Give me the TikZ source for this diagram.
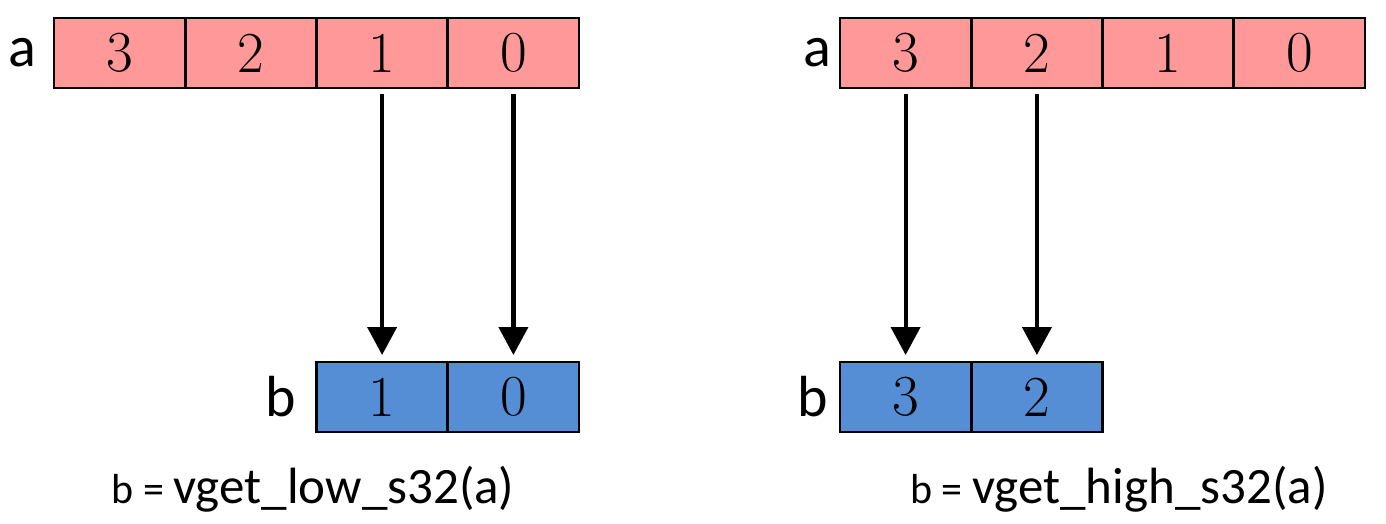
\documentclass[tikz,border=0pt]{standalone}
\usepackage{fontspec}
\usepackage{xcolor}
\usetikzlibrary{positioning, arrows.meta}
\newfontfamily\lblfont{Carlito}
\definecolor{cellpink}{HTML}{FF9999}
\definecolor{cellblue}{HTML}{558ED5}

\tikzset{
    cell/.style={draw, line width=2.5pt, minimum width=131pt, minimum height=70pt,
        inner sep=0pt, outer sep=0pt, font=\fontsize{58}{64}\selectfont},
    acell/.style={cell, fill=cellpink},
    bcell/.style={cell, fill=cellblue},
    lbl/.style={inner sep=0pt, font=\lblfont\fontsize{58}{64}\selectfont},
    lane/.style={line width=4.2pt, -{Triangle[length=28pt, width=29pt]},
        shorten <=6pt, shorten >=7pt}
}

\begin{document}
\begin{tikzpicture}[x=1pt, y=-1pt]
        \useasboundingbox (0, 0) rectangle (1386, 524);

        \node[acell] (aL3) at (119.6, 53) {3};
        \node[acell] (aL2) at (250.9, 53) {2};
        \node[acell] (aL1) at (382.1, 53) {1};
        \node[acell] (aL0) at (513.4, 53) {0};
        \node[bcell] (bL1) at (382.1, 397) {1};
        \node[bcell] (bL0) at (513.4, 397) {0};
        \node[lbl, left=18pt of aL3] (laL) {a};
        \node[lbl, left=20pt of bL1] (lbL) {b};

        \draw[lane] (aL1.south) -- (bL1.north);
        \draw[lane] (aL0.south) -- (bL0.north);

        \node[anchor=base, inner sep=0pt] (capL) at (313, 503)
            {\lblfont\fontsize{42}{48}\selectfont b = \fontsize{51}{58}\selectfont vget\_low\_s32(a)};

        \node[acell] (aH3) at (905.6, 53) {3};
        \node[acell] (aH2) at (1036.9, 53) {2};
        \node[acell] (aH1) at (1168.1, 53) {1};
        \node[acell] (aH0) at (1299.4, 53) {0};
        \node[bcell] (bH3) at (905.6, 397) {3};
        \node[bcell] (bH2) at (1036.9, 397) {2};
        \node[lbl, left=9pt of aH3] (laH) {a};
        \node[lbl, left=12pt of bH3] (lbH) {b};

        \draw[lane] (aH3.south) -- (bH3.north);
        \draw[lane] (aH2.south) -- (bH2.north);

        \node[anchor=base, inner sep=0pt] (capH) at (1119, 503)
            {\lblfont\fontsize{42}{48}\selectfont b = \fontsize{51}{58}\selectfont vget\_high\_s32(a)};
    \end{tikzpicture}
\end{document}
